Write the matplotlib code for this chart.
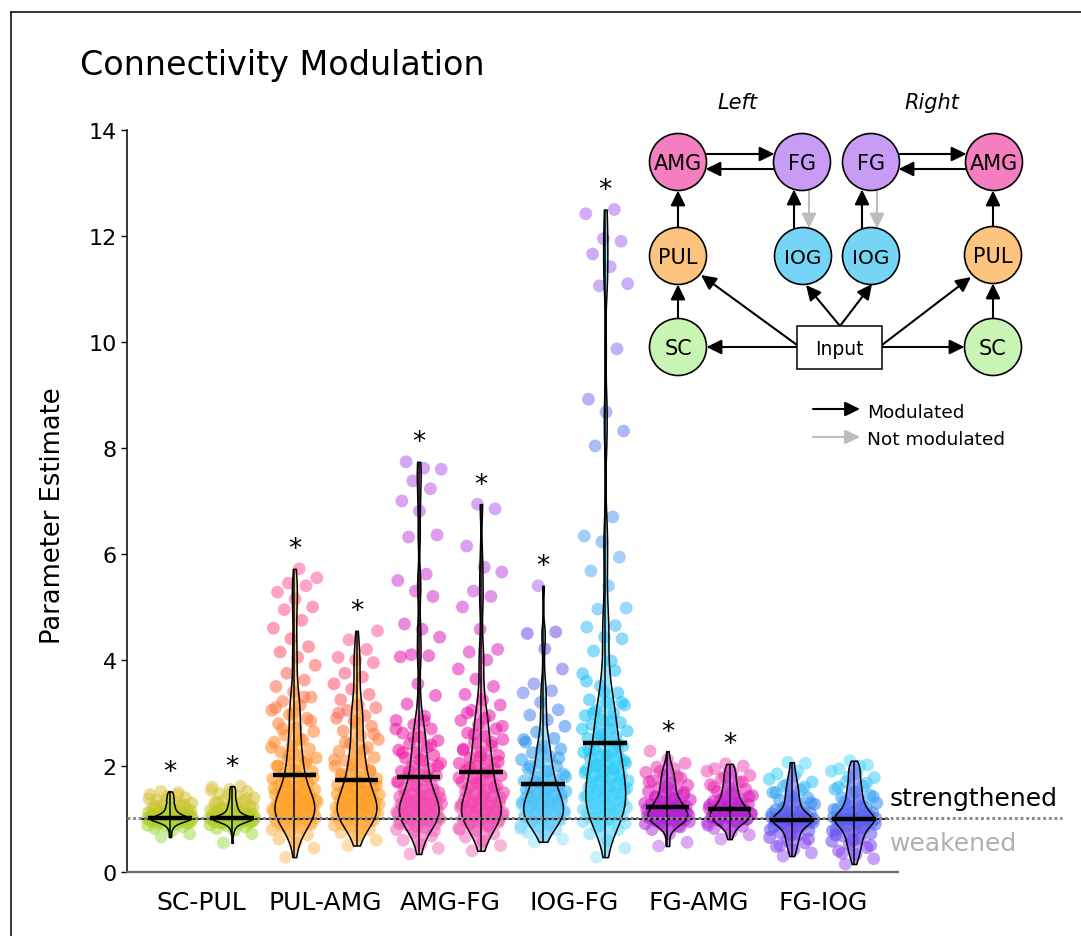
import numpy as np
import matplotlib
matplotlib.use("Agg")
import matplotlib.pyplot as plt
from matplotlib.colors import LinearSegmentedColormap
from matplotlib.patches import Circle, Rectangle
from matplotlib.lines import Line2D

plt.rcParams['font.family'] = ['DejaVu Sans']

# ---------------- data ----------------
categories = ['SC-PUL', 'PUL-AMG', 'AMG-FG', 'IOG-FG', 'FG-AMG', 'FG-IOG']

sc_pul_left = [0.66, 0.72, 0.78, 0.82, 0.85, 0.87, 0.88, 0.90, 0.91, 0.92, 0.93, 0.94,
               0.95, 0.95, 0.96, 0.97, 0.97, 0.98, 0.98, 0.99, 0.99, 1.00, 1.00, 1.00,
               1.01, 1.01, 1.02, 1.02, 1.03, 1.03, 1.04, 1.04, 1.05, 1.05, 1.06, 1.07,
               1.08, 1.09, 1.10, 1.11, 1.12, 1.14, 1.16, 1.18, 1.20, 1.22, 1.25, 1.28,
               1.30, 1.33, 1.36, 1.40, 1.43, 1.46, 1.50, 1.52,
               0.93, 0.96, 0.98, 0.99, 1.00, 1.01, 1.02, 1.03, 1.05, 1.06, 1.08, 1.10,
               1.13, 1.15, 1.19, 1.24, 1.27, 1.35, 1.38, 1.45]
sc_pul_right = [0.55, 0.72, 0.78, 0.82, 0.85, 0.87, 0.89, 0.90, 0.92, 0.93, 0.94, 0.95,
                0.96, 0.96, 0.97, 0.98, 0.98, 0.99, 0.99, 1.00, 1.00, 1.00, 1.01, 1.01,
                1.02, 1.02, 1.03, 1.03, 1.04, 1.04, 1.05, 1.06, 1.06, 1.07, 1.08, 1.09,
                1.10, 1.12, 1.13, 1.15, 1.17, 1.19, 1.21, 1.24, 1.27, 1.30, 1.33, 1.36,
                1.40, 1.44, 1.48, 1.52, 1.56, 1.60, 1.62,
                0.92, 0.95, 0.97, 0.99, 1.00, 1.01, 1.02, 1.03, 1.04, 1.06, 1.08, 1.11,
                1.14, 1.18, 1.22, 1.26, 1.31, 1.38, 1.46, 1.54]
pul_amg_left = [0.28, 0.45, 0.55, 0.62, 0.70, 0.75, 0.80, 0.84, 0.88, 0.90, 0.93, 0.95,
                0.98, 1.00, 1.02, 1.05, 1.07, 1.10, 1.12, 1.14, 1.16, 1.18, 1.20, 1.22,
                1.25, 1.27, 1.30, 1.32, 1.35, 1.38, 1.40, 1.43, 1.46, 1.50, 1.53, 1.56,
                1.60, 1.64, 1.68, 1.72, 1.76, 1.80, 1.86, 1.90, 1.95, 2.00, 2.05, 2.10,
                2.15, 2.20, 2.26, 2.32, 2.38, 2.45, 2.50, 2.58, 2.65, 2.72, 2.80, 2.90,
                2.97, 3.05, 3.15, 3.22, 3.30, 3.40, 3.50, 3.62, 3.75, 3.90, 4.05, 4.15,
                4.25, 4.40, 4.60, 4.75, 4.95, 5.00, 5.15, 5.28, 5.40, 5.45, 5.55, 5.72,
                0.85, 0.92, 0.97, 1.00, 1.03, 1.06, 1.08, 1.10, 1.12, 1.14, 1.16, 1.18,
                1.20, 1.22, 1.24, 1.26, 1.28, 1.30, 1.33, 1.36, 1.40, 1.44, 1.48, 1.52,
                1.58, 1.65, 1.70, 1.78, 1.90, 2.00, 2.10, 2.20, 2.35, 2.50, 2.70, 2.85,
                3.00, 3.10, 3.30]
pul_amg_right = [0.50, 0.60, 0.68, 0.74, 0.80, 0.85, 0.88, 0.92, 0.95, 0.98, 1.00, 1.03,
                 1.06, 1.08, 1.10, 1.12, 1.15, 1.18, 1.20, 1.22, 1.25, 1.28, 1.30, 1.33,
                 1.36, 1.40, 1.43, 1.46, 1.50, 1.53, 1.57, 1.60, 1.64, 1.68, 1.72, 1.76,
                 1.80, 1.85, 1.90, 1.95, 2.00, 2.05, 2.10, 2.16, 2.22, 2.28, 2.35, 2.42,
                 2.50, 2.58, 2.66, 2.75, 2.85, 2.90, 2.95, 3.05, 3.10, 3.15, 3.25, 3.35,
                 3.45, 3.55, 3.68, 3.75, 3.95, 4.00, 4.05, 4.20, 4.38, 4.55,
                 0.82, 0.90, 0.96, 1.00, 1.04, 1.07, 1.10, 1.13, 1.16, 1.19, 1.22, 1.25,
                 1.28, 1.31, 1.34, 1.38, 1.42, 1.47, 1.52, 1.58, 1.64, 1.70, 1.82, 1.92,
                 2.02, 2.12, 2.30, 2.45, 2.60, 2.80, 3.00]
amg_fg_left = [0.34, 0.45, 0.52, 0.60, 0.68, 0.74, 0.80, 0.84, 0.88, 0.91, 0.94, 0.97,
               0.98, 1.00, 1.00, 1.02, 1.04, 1.06, 1.08, 1.10, 1.12, 1.15, 1.18, 1.20,
               1.23, 1.25, 1.26, 1.29, 1.32, 1.35, 1.36, 1.38, 1.42, 1.45, 1.46, 1.50,
               1.54, 1.58, 1.62, 1.66, 1.70, 1.74, 1.79, 1.82, 1.86, 1.90, 1.95, 2.00,
               2.05, 2.10, 2.15, 2.20, 2.25, 2.30, 2.36, 2.42, 2.48, 2.55, 2.62, 2.70,
               2.78, 2.86, 2.94, 3.17, 3.33, 3.55, 4.06, 4.08, 4.10, 4.43, 4.58, 4.68,
               5.20, 5.30, 5.50, 5.62, 6.32, 6.36, 6.81, 7.00, 7.23, 7.38, 7.60, 7.62,
               7.74,
               0.78, 0.86, 0.92, 0.96, 0.99, 1.02, 1.05, 1.07, 1.09, 1.11, 1.13, 1.16,
               1.19, 1.22, 1.25, 1.28, 1.31, 1.34, 1.40, 1.44, 1.48, 1.55, 1.62, 1.70,
               1.80, 1.90, 2.00, 2.12, 2.25, 2.40, 2.55, 2.70, 2.85]
amg_fg_right = [0.40, 0.50, 0.58, 0.66, 0.72, 0.78, 0.83, 0.87, 0.90, 0.93, 0.96, 0.99,
                1.02, 1.05, 1.08, 1.10, 1.13, 1.16, 1.19, 1.22, 1.25, 1.28, 1.31, 1.35,
                1.38, 1.42, 1.46, 1.50, 1.54, 1.58, 1.62, 1.66, 1.70, 1.74, 1.78, 1.82,
                1.86, 1.92, 1.96, 2.00, 2.05, 2.10, 2.15, 2.20, 2.26, 2.32, 2.38, 2.44,
                2.50, 2.56, 2.62, 2.70, 2.78, 2.86, 2.95, 3.05, 3.15, 3.25, 3.35, 3.50,
                3.64, 3.83, 4.00, 4.15, 4.20, 4.58, 5.00, 5.20, 5.30, 5.66, 5.75, 6.15,
                6.85, 6.94,
                0.80, 0.88, 0.94, 0.98, 1.01, 1.04, 1.07, 1.10, 1.12, 1.15, 1.18, 1.21,
                1.24, 1.27, 1.30, 1.34, 1.40, 1.45, 1.52, 1.60, 1.68, 1.78, 1.88, 1.98,
                2.08, 2.18, 2.30, 2.45, 2.60, 2.75, 2.90, 3.00]
iog_fg_left = [0.57, 0.62, 0.70, 0.75, 0.80, 0.85, 0.88, 0.92, 0.95, 0.98, 1.00, 1.03,
               1.06, 1.09, 1.12, 1.15, 1.18, 1.21, 1.24, 1.27, 1.30, 1.33, 1.36, 1.39,
               1.42, 1.45, 1.48, 1.52, 1.56, 1.60, 1.64, 1.68, 1.72, 1.76, 1.80, 1.85,
               1.90, 1.95, 2.00, 2.06, 2.12, 2.18, 2.25, 2.32, 2.38, 2.45, 2.52, 2.64,
               2.75, 2.87, 2.96, 3.06, 3.20, 3.38, 3.42, 3.55, 3.83, 4.21, 4.50, 4.53,
               5.40,
               0.82, 0.90, 0.96, 1.00, 1.04, 1.07, 1.10, 1.13, 1.16, 1.19, 1.22, 1.25,
               1.28, 1.32, 1.36, 1.40, 1.45, 1.50, 1.55, 1.62, 1.70, 1.80, 1.90, 2.00,
               2.15, 2.30, 2.50]
iog_fg_right = [0.28, 0.45, 0.60, 0.72, 0.80, 0.88, 0.95, 1.00, 1.02, 1.05, 1.10, 1.12,
                1.15, 1.20, 1.22, 1.25, 1.30, 1.33, 1.36, 1.42, 1.45, 1.48, 1.54, 1.57,
                1.60, 1.66, 1.69, 1.72, 1.78, 1.81, 1.84, 1.90, 1.93, 1.96, 2.02, 2.05,
                2.08, 2.14, 2.17, 2.20, 2.26, 2.29, 2.32, 2.38, 2.48, 2.52, 2.55, 2.62,
                2.66, 2.70, 2.78, 2.82, 2.86, 2.95, 3.00, 3.05, 3.15, 3.20, 3.25, 3.38,
                3.51, 3.74, 3.98, 4.17, 4.40, 4.43, 4.62, 4.65, 4.96, 4.98, 5.40, 5.68,
                5.94, 6.23, 6.34, 6.70, 8.04, 8.32, 8.68, 8.92, 9.87, 11.06, 11.10,
                11.42, 11.66, 11.90, 11.95, 12.42, 12.50,
                0.85, 0.92, 0.98, 1.03, 1.08, 1.13, 1.18, 1.23, 1.28, 1.33, 1.38, 1.43,
                1.48, 1.53, 1.58, 1.63, 1.68, 1.74, 1.80, 1.87, 1.94, 2.00, 2.10, 2.20,
                2.30, 2.40, 2.55, 2.70, 2.85, 3.00, 3.20, 3.40, 3.60, 3.80]
fg_amg_left = [0.49, 0.56, 0.72, 0.80, 0.85, 0.88, 0.91, 0.94, 0.96, 0.98, 1.00, 1.02,
               1.04, 1.06, 1.08, 1.10, 1.12, 1.14, 1.16, 1.18, 1.20, 1.22, 1.24, 1.26,
               1.28, 1.30, 1.33, 1.36, 1.39, 1.42, 1.45, 1.48, 1.52, 1.56, 1.60, 1.64,
               1.68, 1.72, 1.77, 1.82, 1.88, 1.95, 1.98, 2.05, 2.12, 2.28,
               0.86, 0.92, 0.95, 0.98, 1.00, 1.02, 1.04, 1.06, 1.08, 1.10, 1.12, 1.15,
               1.18, 1.22, 1.26, 1.30, 1.35, 1.40, 1.50, 1.60, 1.70, 1.80, 1.90]
fg_amg_right = [0.62, 0.70, 0.76, 0.82, 0.86, 0.90, 0.93, 0.96, 0.98, 1.00, 1.02, 1.04,
                1.06, 1.08, 1.10, 1.12, 1.14, 1.16, 1.18, 1.20, 1.22, 1.24, 1.27, 1.30,
                1.33, 1.36, 1.40, 1.44, 1.48, 1.52, 1.56, 1.60, 1.65, 1.70, 1.76, 1.82,
                1.88, 1.95, 2.00, 2.04,
                0.88, 0.94, 0.97, 1.00, 1.02, 1.04, 1.06, 1.08, 1.10, 1.12, 1.15, 1.18,
                1.22, 1.26, 1.30, 1.36, 1.42, 1.50, 1.60, 1.70, 1.80, 1.90]
fg_iog_left = [0.30, 0.36, 0.42, 0.48, 0.55, 0.60, 0.65, 0.70, 0.74, 0.78, 0.82, 0.85,
               0.88, 0.91, 0.93, 0.95, 0.97, 0.99, 1.01, 1.03, 1.05, 1.08, 1.11, 1.14,
               1.17, 1.20, 1.24, 1.28, 1.32, 1.36, 1.40, 1.45, 1.50, 1.55, 1.62, 1.70,
               1.81, 1.85, 2.05, 2.07,
               0.80, 0.86, 0.90, 0.94, 0.96, 0.98, 0.99, 1.00, 1.00, 1.01, 1.02, 1.04,
               1.06, 1.10, 1.15, 1.20, 1.30, 1.40, 1.50, 1.60, 1.65, 1.75, 1.90, 0.50,
               0.62, 0.70]
fg_iog_right = [0.15, 0.25, 0.33, 0.40, 0.46, 0.52, 0.58, 0.63, 0.68, 0.72, 0.76, 0.80,
                0.84, 0.87, 0.90, 0.93, 0.96, 0.98, 1.01, 1.03, 1.06, 1.09, 1.12, 1.15,
                1.18, 1.22, 1.26, 1.30, 1.35, 1.40, 1.45, 1.50, 1.56, 1.62, 1.70, 1.78,
                1.86, 1.95, 2.02, 2.10,
                0.78, 0.84, 0.90, 0.94, 0.97, 0.99, 1.00, 1.00, 1.01, 1.02, 1.04, 1.07,
                1.12, 1.18, 1.25, 1.32, 1.42, 1.52, 1.60, 1.68, 1.80, 1.90, 2.00, 0.35,
                0.50, 0.60, 0.70]

medians = [1.02, 1.02, 1.83, 1.74, 1.79, 1.89, 1.66, 2.43, 1.22, 1.19, 0.98, 1.00]
significant = [True, True, True, True, True, True, True, True, True, True, False, False]
y_ticks = [0, 2, 4, 6, 8, 10, 12, 14]
baseline = 1.0

datasets = [sc_pul_left, sc_pul_right, pul_amg_left, pul_amg_right,
            amg_fg_left, amg_fg_right, iog_fg_left, iog_fg_right,
            fg_amg_left, fg_amg_right, fg_iog_left, fg_iog_right]

# ---------------- styles ----------------
cm_sc = ['#9BE35A', '#A9D42C', '#C9C22A', '#E0C44C']
cm_pa = ['#FFC46A', '#FF9410', '#FF7B38', '#FF4F70', '#FF5EA8']
cm_af = ['#F47DC2', '#F212A0', '#E31AB4', '#C845DC', '#B462F0']
cm_if1 = ['#9AE6FA', '#2CB4F6', '#2C8EF0', '#6A7AF0', '#7048EC', '#B070F0']
cm_if2 = ['#9AE6FA', '#12C6F8', '#22BEF8', '#5AB4F8', '#5590F0', '#7A78F0', '#A070F0', '#B068F0']
cm_fa = ['#C070F0', '#B020D8', '#D414BE', '#EE30B0', '#F25CB8']
cm_fi = ['#A060F0', '#7A3EF0', '#4868F0', '#3092F2', '#38C6F8', '#5ADFF8']
cmap_lists = [cm_sc, cm_sc, cm_pa, cm_pa, cm_af, cm_af, cm_if1, cm_if2,
              cm_fa, cm_fa, cm_fi, cm_fi]
cmaps = [LinearSegmentedColormap.from_list('c%d' % i, c) for i, c in enumerate(cmap_lists)]

W, H = 1081, 937
fig = plt.figure(figsize=(W / 100, H / 100), dpi=100)
ax = fig.add_axes([127 / W, 64 / H, 771 / W, 742 / H])

positions = np.arange(len(datasets))
ax.set_xlim(-0.6915, 11.708)
ax.set_ylim(0, 14)


def robust_bw(kde):
    d = np.asarray(kde.dataset).ravel()
    std = d.std(ddof=1)
    q75, q25 = np.percentile(d, [75, 25])
    sigma = min(std, (q75 - q25) / 1.349)
    return 0.6 * sigma * len(d) ** (-0.2) / std


# points
for i, (vals, cm) in enumerate(zip(datasets, cmaps)):
    v = np.asarray(vals, dtype=float)
    n = len(v)
    jit = ((np.arange(n) * 0.6180339887 + 0.31) % 1.0 - 0.5) * 2 * 0.37
    norm = plt.Normalize(v.min(), v.max())
    ax.scatter(positions[i] + jit, v, s=85, c=cm(norm(v)), alpha=0.55,
               linewidths=0, zorder=2)

# violins
parts = ax.violinplot(datasets, positions=positions, widths=0.64,
                      showextrema=False, showmedians=False, bw_method=robust_bw)
for i, body in enumerate(parts['bodies']):
    v = np.asarray(datasets[i])
    fc = cmaps[i]((medians[i] - v.min()) / (v.max() - v.min()) * 0.6)
    body.set_alpha(None)
    body.set_facecolor((fc[0], fc[1], fc[2], 0.5))
    body.set_edgecolor('black')
    body.set_linewidth(1.1)
    body.set_zorder(3)

mins = [min(d) for d in datasets]
maxs = [max(d) for d in datasets]
ax.vlines(positions, mins, maxs, color='black', lw=1.1, zorder=4)
ax.hlines(medians, positions - 0.35, positions + 0.35, color='black', lw=3.2, zorder=5)

# reference lines
ax.axhline(baseline, xmin=0.017, xmax=0.987, color='black', lw=1.2, zorder=4)
ax.axhline(baseline + 0.02, xmin=0.0, xmax=1.213, color='#8a8a8a', lw=2.2,
           ls=(0, (0.9, 0.95)), clip_on=False, zorder=4)

# significance stars
for i, sig in enumerate(significant):
    if sig:
        ax.annotate('*', xy=(positions[i], maxs[i]), xytext=(0, 9),
                    textcoords='offset points', ha='center', va='baseline',
                    fontsize=19, zorder=6)

# axes styling
for s in ['top', 'right']:
    ax.spines[s].set_visible(False)
ax.spines['left'].set_color('black')
ax.spines['left'].set_linewidth(1.1)
ax.spines['bottom'].set_color('#6E6E6E')
ax.spines['bottom'].set_linewidth(1.6)
ax.set_yticks(y_ticks)
ax.set_yticklabels([str(t) for t in y_ticks])
ax.tick_params(axis='y', direction='out', length=4, width=1, pad=3.5, labelsize=16)
ax.set_xticks(positions[::2] + 0.5)
ax.set_xticklabels(categories)
ax.tick_params(axis='x', length=0, pad=13, labelsize=18)
ax.patch.set_alpha(0)

# ---------------- overlay (pixel coordinates) ----------------
ov = fig.add_axes([0, 0, 1, 1], zorder=10)
ov.set_xlim(0, W)
ov.set_ylim(H, 0)
ov.axis('off')
ov.patch.set_alpha(0)

# frame lines
ov.add_line(Line2D([11, W], [13, 13], color='black', lw=1.1))
ov.add_line(Line2D([11, 11], [13, H], color='black', lw=1.1))

ov.text(80, 75, 'Connectivity Modulation', fontsize=24, va='baseline', ha='left')
ov.text(53, 516, 'Parameter Estimate', fontsize=18.5, rotation=90,
        ha='center', va='center')
ov.text(890, 806, 'strengthened', fontsize=18, va='baseline', ha='left', color='black')
ov.text(890, 851, 'weakened', fontsize=18, va='baseline', ha='left', color='#B0B0B0')

# network diagram
nodes = {
    'AMG_L': (678, 163, 'AMG', '#F47EC0'), 'FG_L': (802, 163, 'FG', '#C89CF5'),
    'FG_R': (871, 163, 'FG', '#C89CF5'), 'AMG_R': (994, 163, 'AMG', '#F47EC0'),
    'PUL_L': (678, 257, 'PUL', '#FDC480'), 'IOG_L': (803, 257, 'IOG', '#76D4F5'),
    'IOG_R': (871, 257, 'IOG', '#76D4F5'), 'PUL_R': (993, 256, 'PUL', '#FDC480'),
    'SC_L': (678, 348, 'SC', '#C8F5B4'), 'SC_R': (993, 348, 'SC', '#C8F5B4'),
}
for key, (cx, cy, lab, col) in nodes.items():
    ov.add_patch(Circle((cx, cy), 28.5, facecolor=col, edgecolor='black', lw=1.2, zorder=3))
    ov.text(cx, cy + 1.5, lab, fontsize=14.5 if lab == 'IOG' else 15,
            ha='center', va='center', zorder=4)
ov.add_patch(Rectangle((797, 327), 85, 43, facecolor='white', edgecolor='black',
                       lw=1.1, zorder=3))
ov.text(839.5, 350, 'Input', fontsize=13.5, ha='center', va='center', zorder=4)
ov.text(737, 103, 'Left', fontsize=15, style='italic', ha='center', va='center')
ov.text(932, 103, 'Right', fontsize=15, style='italic', ha='center', va='center')


def arrow(x0, y0, x1, y1, color='black'):
    ov.annotate('', xy=(x1, y1), xytext=(x0, y0),
                arrowprops=dict(arrowstyle='-|>,head_length=0.45,head_width=0.22',
                                mutation_scale=20, color=color, lw=1.5,
                                shrinkA=0, shrinkB=0), zorder=2)


grey = '#BDBDBD'
arrow(705.5, 155, 774.5, 155)
arrow(774.5, 170, 705.5, 170)
arrow(898.5, 155, 966.5, 155)
arrow(966.5, 170, 898.5, 170)
arrow(678, 228.5, 678, 191.5)
arrow(678, 319.5, 678, 285.5)
arrow(993, 227.5, 993, 191.5)
arrow(993, 319.5, 993, 284.5)
arrow(794, 229.5, 794, 190.5)
arrow(809, 190.5, 809, 229.5, grey)
arrow(862, 229.5, 862, 190.5)
arrow(877, 190.5, 877, 229.5, grey)
arrow(797, 348, 706.5, 348)
arrow(882, 348, 964.5, 348)
arrow(797, 346, 701, 276)
arrow(840, 327, 806, 286)
arrow(840, 327, 872, 285)
arrow(882, 346, 971, 278)
# legend
arrow(813, 410, 860, 410)
arrow(813, 438, 860, 438, grey)
ov.text(867, 413, 'Modulated', fontsize=13.3, ha='left', va='center')
ov.text(867, 440, 'Not modulated', fontsize=13.3, ha='left', va='center')

fig.savefig('out.png', dpi=100)
